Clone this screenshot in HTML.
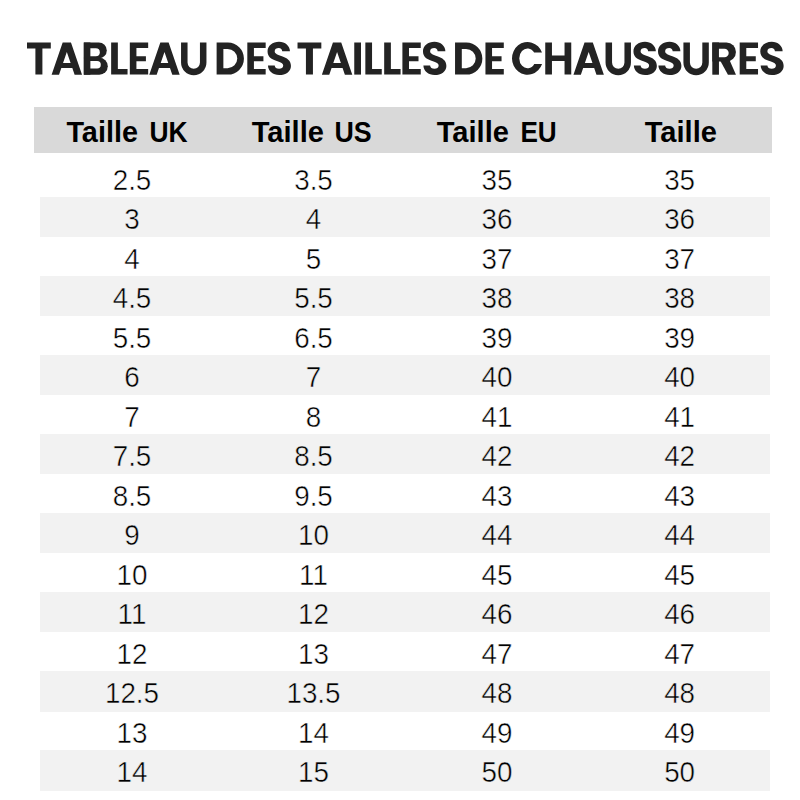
<!DOCTYPE html>
<html lang="fr"><head><meta charset="utf-8"><title>Tableau des tailles de chaussures</title>
<style>
html,body{margin:0;padding:0;background:#fff;}
body{width:800px;height:800px;position:relative;overflow:hidden;font-family:"Liberation Sans",sans-serif;}
.hd{position:absolute;left:34px;top:106.75px;width:738.25px;height:45.75px;background:#d9d9d9;}
.st{position:absolute;left:39.5px;width:730.6px;height:40.2px;background:#f2f2f2;}
.t{position:absolute;left:27px;top:36px;margin:0;width:756px;height:44px;line-height:44px;font-size:40px;font-weight:bold;color:transparent;white-space:nowrap;overflow:hidden;}
svg{position:absolute;left:0;top:0;overflow:visible;}
text{font-family:"Liberation Sans",sans-serif;}
.hb{font-weight:bold;font-size:29px;fill:#000;}
.d{font-size:29.9px;fill:#000;text-anchor:middle;stroke:#fff;stroke-width:0.5px;paint-order:fill stroke;}
.g{stroke:#f2f2f2;}
</style></head><body>
<h1 class="t">TABLEAU DES TAILLES DE CHAUSSURES</h1>
<div class="hd"></div>
<div class="st" style="top:197.05px"></div>
<div class="st" style="top:276.10px"></div>
<div class="st" style="top:355.15px"></div>
<div class="st" style="top:434.20px"></div>
<div class="st" style="top:513.25px"></div>
<div class="st" style="top:592.30px"></div>
<div class="st" style="top:671.35px"></div>
<div class="st" style="top:750.40px"></div>
<svg width="800" height="800" viewBox="0 0 800 800" role="img" aria-label="TABLEAU DES TAILLES DE CHAUSSURES"><defs>
<g id="gT"><path d="M0,0H23.8V6H15.4V32.1H8.4V6H0Z"/></g>
<g id="gL"><path d="M0,0H6.7V26.5H16.4V32.1H0Z"/></g>
<g id="gE"><path d="M0,0H18.35V5.6H6.6V13.8H16.1V18.8H6.6V26.5H18.35V32.1H0Z"/></g>
<g id="gI"><path d="M0,0H6.75V32.1H0Z"/></g>
<g id="gH"><path d="M0,0H6.7V13.1H19.3V0H26V32.1H19.3V18.6H6.7V32.1H0Z"/></g>
<g id="gA"><path fill-rule="evenodd" d="M0,32.2L11.05,0H19.35L30.4,32.2H23L20.7,25.5H9.7L7.4,32.2Z M15.2,9.47L11.42,20.5H18.98Z"/></g>
<g id="gU"><path fill="none" stroke="#232323" stroke-width="6.5" d="M3.25,0V20A9.45,9.45 0 0 0 22.15,20V0"/></g>
<g id="gD"><path fill-rule="evenodd" d="M0,0H11.25A16.05,16.05 0 0 1 11.25,32.1H0Z M6.75,6.4H11A9.65,9.65 0 0 1 11,25.7H6.75Z"/></g>
<g id="gC"><path d="M30,10.1A15.5,16.4 0 1 0 30.07,21.5H22.26A8.2,9.9 0 1 1 22.15,10.1Z"/></g>
<g id="gS"><path d="M22.4,8.75C22.4,3.4 17.6,-0.75 11.5,-0.75C5.1,-0.75 0,3.3 0,8.8C0,14.2 3.6,16.7 8.5,18.3C12.5,19.6 15.65,20.6 15.65,23C15.65,25.2 13.8,26.25 11.5,26.25C9,26.25 7.15,25 7.15,23H0.4C0.6,28.4 5.3,32.5 11.7,32.5C18.2,32.5 23.4,29 23.4,23.4C23.4,17.6 19.3,15.6 14.4,13.7C10.4,12.2 7.15,11.4 7.15,8.7C7.15,6.7 8.9,5.5 11.2,5.5C13.3,5.5 14.65,6.8 14.65,8.75Z"/></g>
<g id="gB"><path d="M0,0H15A8,7.9 0 0 1 15,15.8H0Z"/><path d="M0,15.2H15.5A8.5,8.5 0 0 1 15.5,32.2H0Z"/><path d="M0,0H6.6V32.2H0Z"/><path fill="#fff" d="M6.6,5.75H12A4,4 0 0 1 12,13.75H6.6Z"/><path fill="#fff" d="M6.6,18.5H13.25A3.75,3.75 0 0 1 13.25,26H6.6Z"/></g>
<g id="gR"><path d="M0,0H14.15A9.5,9.5 0 0 1 14.15,19H0Z"/><path d="M0,0H6.65V32.2H0Z"/><path d="M7.3,17H17L23.65,32.2H15.65Z"/><path fill="#fff" d="M6.65,6.25H12.15A4.25,4.25 0 0 1 12.15,14.75H6.65Z"/></g>
</defs><g fill="#232323">
<use href="#gT" x="27.00" y="42.5"/>
<use href="#gA" x="51.62" y="42.5"/>
<use href="#gB" x="83.80" y="42.5"/>
<use href="#gL" x="111.15" y="42.5"/>
<use href="#gE" x="129.82" y="42.5"/>
<use href="#gA" x="149.28" y="42.5"/>
<use href="#gU" x="181.05" y="42.5"/>
<use href="#gD" x="216.62" y="42.5"/>
<use href="#gE" x="247.32" y="42.5"/>
<use href="#gS" x="267.55" y="42.5"/>
<use href="#gT" x="297.53" y="42.5"/>
<use href="#gA" x="321.88" y="42.5"/>
<use href="#gI" x="354.25" y="42.5"/>
<use href="#gL" x="365.35" y="42.5"/>
<use href="#gL" x="384.18" y="42.5"/>
<use href="#gE" x="402.40" y="42.5"/>
<use href="#gS" x="422.98" y="42.5"/>
<use href="#gD" x="455.05" y="42.5"/>
<use href="#gE" x="485.45" y="42.5"/>
<use href="#gC" x="512.00" y="42.5"/>
<use href="#gH" x="545.25" y="42.5"/>
<use href="#gA" x="573.47" y="42.5"/>
<use href="#gU" x="605.55" y="42.5"/>
<use href="#gS" x="633.45" y="42.5"/>
<use href="#gS" x="658.00" y="42.5"/>
<use href="#gU" x="683.42" y="42.5"/>
<use href="#gR" x="712.30" y="42.5"/>
<use href="#gE" x="739.68" y="42.5"/>
<use href="#gS" x="760.25" y="42.5"/>
</g>
<text class="hb" transform="translate(66.40,141.85) scale(0.9943,1)">Taille</text>
<text class="hb" transform="translate(149.41,141.85) scale(0.9107,1)">UK</text>
<text class="hb" transform="translate(251.75,141.85) scale(1.0021,1)">Taille</text>
<text class="hb" transform="translate(334.38,141.85) scale(0.9240,1)">US</text>
<text class="hb" transform="translate(436.75,141.85) scale(1.0021,1)">Taille</text>
<text class="hb" transform="translate(520.40,141.85) scale(0.9014,1)">EU</text>
<text class="hb" transform="translate(644.75,141.85) scale(1.0021,1)">Taille</text>
<text class="d" transform="translate(132.0,189.55) scale(0.93,1)">2.5</text>
<text class="d" transform="translate(313.5,189.55) scale(0.93,1)">3.5</text>
<text class="d" transform="translate(496.9,189.55) scale(0.93,1)">35</text>
<text class="d" transform="translate(679.6,189.55) scale(0.93,1)">35</text>
<text class="d g" transform="translate(132.0,229.07) scale(0.93,1)">3</text>
<text class="d g" transform="translate(313.5,229.07) scale(0.93,1)">4</text>
<text class="d g" transform="translate(496.9,229.07) scale(0.93,1)">36</text>
<text class="d g" transform="translate(679.6,229.07) scale(0.93,1)">36</text>
<text class="d" transform="translate(132.0,268.59) scale(0.93,1)">4</text>
<text class="d" transform="translate(313.5,268.59) scale(0.93,1)">5</text>
<text class="d" transform="translate(496.9,268.59) scale(0.93,1)">37</text>
<text class="d" transform="translate(679.6,268.59) scale(0.93,1)">37</text>
<text class="d g" transform="translate(132.0,308.11) scale(0.93,1)">4.5</text>
<text class="d g" transform="translate(313.5,308.11) scale(0.93,1)">5.5</text>
<text class="d g" transform="translate(496.9,308.11) scale(0.93,1)">38</text>
<text class="d g" transform="translate(679.6,308.11) scale(0.93,1)">38</text>
<text class="d" transform="translate(132.0,347.63) scale(0.93,1)">5.5</text>
<text class="d" transform="translate(313.5,347.63) scale(0.93,1)">6.5</text>
<text class="d" transform="translate(496.9,347.63) scale(0.93,1)">39</text>
<text class="d" transform="translate(679.6,347.63) scale(0.93,1)">39</text>
<text class="d g" transform="translate(132.0,387.15) scale(0.93,1)">6</text>
<text class="d g" transform="translate(313.5,387.15) scale(0.93,1)">7</text>
<text class="d g" transform="translate(496.9,387.15) scale(0.93,1)">40</text>
<text class="d g" transform="translate(679.6,387.15) scale(0.93,1)">40</text>
<text class="d" transform="translate(132.0,426.67) scale(0.93,1)">7</text>
<text class="d" transform="translate(313.5,426.67) scale(0.93,1)">8</text>
<text class="d" transform="translate(496.9,426.67) scale(0.93,1)">41</text>
<text class="d" transform="translate(679.6,426.67) scale(0.93,1)">41</text>
<text class="d g" transform="translate(132.0,466.19) scale(0.93,1)">7.5</text>
<text class="d g" transform="translate(313.5,466.19) scale(0.93,1)">8.5</text>
<text class="d g" transform="translate(496.9,466.19) scale(0.93,1)">42</text>
<text class="d g" transform="translate(679.6,466.19) scale(0.93,1)">42</text>
<text class="d" transform="translate(132.0,505.71) scale(0.93,1)">8.5</text>
<text class="d" transform="translate(313.5,505.71) scale(0.93,1)">9.5</text>
<text class="d" transform="translate(496.9,505.71) scale(0.93,1)">43</text>
<text class="d" transform="translate(679.6,505.71) scale(0.93,1)">43</text>
<text class="d g" transform="translate(132.0,545.23) scale(0.93,1)">9</text>
<text class="d g" transform="translate(313.5,545.23) scale(0.93,1)">10</text>
<text class="d g" transform="translate(496.9,545.23) scale(0.93,1)">44</text>
<text class="d g" transform="translate(679.6,545.23) scale(0.93,1)">44</text>
<text class="d" transform="translate(132.0,584.75) scale(0.93,1)">10</text>
<text class="d" transform="translate(313.5,584.75) scale(0.93,1)">11</text>
<text class="d" transform="translate(496.9,584.75) scale(0.93,1)">45</text>
<text class="d" transform="translate(679.6,584.75) scale(0.93,1)">45</text>
<text class="d g" transform="translate(132.0,624.27) scale(0.93,1)">11</text>
<text class="d g" transform="translate(313.5,624.27) scale(0.93,1)">12</text>
<text class="d g" transform="translate(496.9,624.27) scale(0.93,1)">46</text>
<text class="d g" transform="translate(679.6,624.27) scale(0.93,1)">46</text>
<text class="d" transform="translate(132.0,663.79) scale(0.93,1)">12</text>
<text class="d" transform="translate(313.5,663.79) scale(0.93,1)">13</text>
<text class="d" transform="translate(496.9,663.79) scale(0.93,1)">47</text>
<text class="d" transform="translate(679.6,663.79) scale(0.93,1)">47</text>
<text class="d g" transform="translate(132.0,703.31) scale(0.93,1)">12.5</text>
<text class="d g" transform="translate(313.5,703.31) scale(0.93,1)">13.5</text>
<text class="d g" transform="translate(496.9,703.31) scale(0.93,1)">48</text>
<text class="d g" transform="translate(679.6,703.31) scale(0.93,1)">48</text>
<text class="d" transform="translate(132.0,742.83) scale(0.93,1)">13</text>
<text class="d" transform="translate(313.5,742.83) scale(0.93,1)">14</text>
<text class="d" transform="translate(496.9,742.83) scale(0.93,1)">49</text>
<text class="d" transform="translate(679.6,742.83) scale(0.93,1)">49</text>
<text class="d g" transform="translate(132.0,782.35) scale(0.93,1)">14</text>
<text class="d g" transform="translate(313.5,782.35) scale(0.93,1)">15</text>
<text class="d g" transform="translate(496.9,782.35) scale(0.93,1)">50</text>
<text class="d g" transform="translate(679.6,782.35) scale(0.93,1)">50</text>
</svg>
</body></html>
